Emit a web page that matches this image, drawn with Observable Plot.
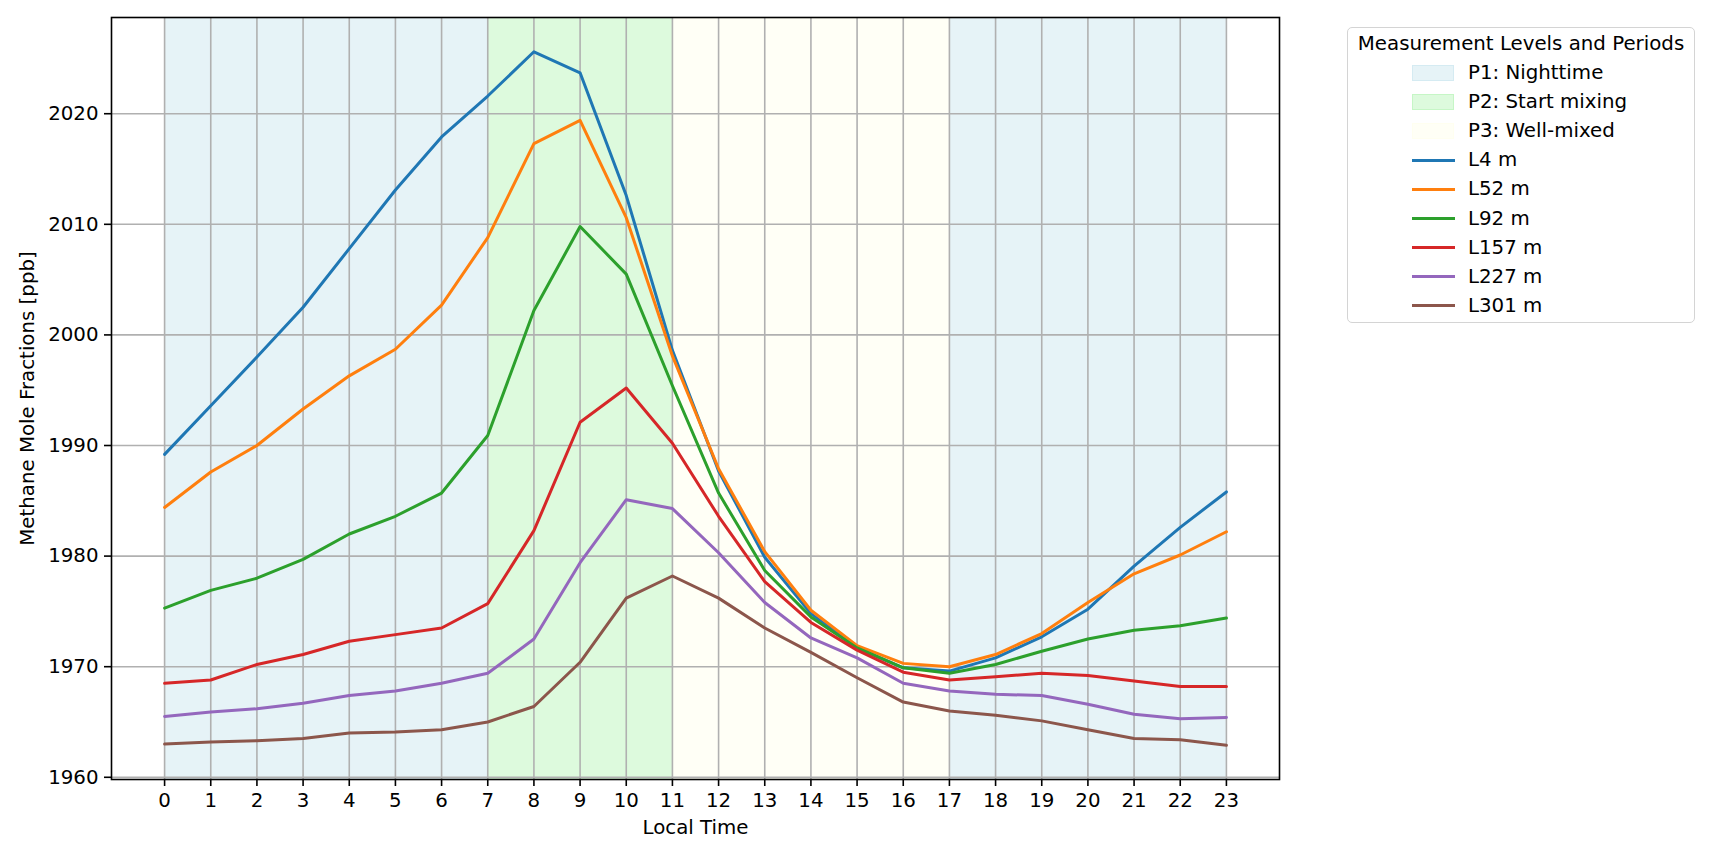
<!DOCTYPE html>
<html><head><meta charset="utf-8">
<script src="https://cdn.jsdelivr.net/npm/d3@7"></script>
<script src="https://cdn.jsdelivr.net/npm/@observablehq/plot@0.6"></script>
<style>
body{margin:0;background:#fff;font-family:"DejaVu Sans",sans-serif;}
#wrap{position:relative;width:1713px;height:852px;overflow:hidden;}
#legend{position:absolute;left:1347px;top:27px;width:346px;height:294px;border:1.6px solid #d4d4d4;border-radius:5px;background:rgba(255,255,255,0.8);font-size:19.8px;color:#000;box-sizing:content-box;}
#legend .title{position:absolute;left:0;width:100%;top:3px;text-align:center;white-space:nowrap;line-height:26px;}
#legend .entry{position:absolute;left:0;width:100%;height:26px;}
#legend .lab{position:absolute;left:120px;top:0;line-height:26px;white-space:nowrap;}
#legend .patch{position:absolute;left:64px;top:5px;width:40px;height:14px;border-width:1.5px;border-style:solid;}
#legend .ln{position:absolute;left:64px;top:11.5px;width:43px;height:3px;}
</style></head>
<body>
<div id="wrap"><div id="chart"></div><div id="legend"></div></div>
<script>
// ---- data ----
const hours = [0,1,2,3,4,5,6,7,8,9,10,11,12,13,14,15,16,17,18,19,20,21,22,23];
const seriesNames = ["L4 m","L52 m","L92 m","L157 m","L227 m","L301 m"];
const seriesColors = ["#1f77b4","#ff7f0e","#2ca02c","#d62728","#9467bd","#8c564b"];
const l4   = [1989.2,1993.6,1998.0,2002.5,2007.8,2013.1,2017.9,2021.6,2025.6,2023.7,2012.6,1998.6,1987.7,1979.9,1974.8,1971.7,1969.9,1969.6,1970.8,1972.7,1975.2,1979.1,1982.6,1985.8];
const l52  = [1984.4,1987.6,1990.0,1993.3,1996.3,1998.7,2002.7,2008.8,2017.3,2019.4,2010.6,1998.1,1987.9,1980.4,1975.1,1971.9,1970.3,1970.0,1971.1,1973.0,1975.8,1978.4,1980.1,1982.2];
const l92  = [1975.3,1976.9,1978.0,1979.7,1982.0,1983.6,1985.7,1990.9,2002.2,2009.8,2005.5,1995.4,1985.7,1978.7,1974.5,1971.7,1969.9,1969.4,1970.2,1971.4,1972.5,1973.3,1973.7,1974.4];
const l157 = [1968.5,1968.8,1970.2,1971.1,1972.3,1972.9,1973.5,1975.7,1982.3,1992.1,1995.2,1990.2,1983.6,1977.7,1974.0,1971.5,1969.5,1968.8,1969.1,1969.4,1969.2,1968.7,1968.2,1968.2];
const l227 = [1965.5,1965.9,1966.2,1966.7,1967.4,1967.8,1968.5,1969.4,1972.5,1979.4,1985.1,1984.3,1980.3,1975.8,1972.6,1970.8,1968.5,1967.8,1967.5,1967.4,1966.6,1965.7,1965.3,1965.4];
const l301 = [1963.0,1963.2,1963.3,1963.5,1964.0,1964.1,1964.3,1965.0,1966.4,1970.4,1976.2,1978.2,1976.2,1973.5,1971.3,1969.0,1966.8,1966.0,1965.6,1965.1,1964.3,1963.5,1963.4,1962.9];
const periodNames = ["P1: Nighttime","P2: Start mixing","P3: Well-mixed"];
const periodColors = ["lightblue","lightgreen","lightyellow"];
const spanStart  = [0, 7, 11, 17];
const spanEnd    = [7, 11, 17, 23];
const spanPeriod = ["P1: Nighttime","P2: Start mixing","P3: Well-mixed","P1: Nighttime"];
const yTicks = [1960,1970,1980,1990,2000,2010,2020];
const legendTitle = "Measurement Levels and Periods";

// ---- build tables ----
const seriesValues = [l4,l52,l92,l157,l227,l301];
const rows = [];
seriesNames.forEach((s,i) => hours.forEach((h,j) => rows.push({series:s, hour:h, value:seriesValues[i][j]})));
const spans = spanStart.map((s,i) => ({start:s, end:spanEnd[i], period:spanPeriod[i]}));

const spanMarks = periodNames.map((p,i) =>
  Plot.rect(spans.filter(d => d.period === p), {x1:"start", x2:"end", fill:periodColors[i], fillOpacity:0.3}));

const chart = Plot.plot({
  width:1713, height:852,
  marginLeft:111, marginRight:434, marginTop:17, marginBottom:73,
  style:{fontFamily:"DejaVu Sans", fontSize:"19.8px", color:"#000", background:"transparent", overflow:"visible"},
  x:{domain:[-1.15,24.15]},
  y:{domain:[1959.8,2028.7]},
  color:{domain:seriesNames, range:seriesColors},
  marks:[
    ...spanMarks,
    Plot.gridX(hours, {stroke:"#b0b0b0", strokeOpacity:1, strokeWidth:1.6}),
    Plot.gridY(yTicks, {stroke:"#b0b0b0", strokeOpacity:1, strokeWidth:1.6}),
    Plot.line(rows, {x:"hour", y:"value", z:"series", stroke:"series", strokeWidth:3}),
    Plot.frame({stroke:"#000", strokeWidth:1.6}),
    Plot.axisX(hours, {tickSize:7, tickPadding:6, strokeWidth:1.6, tickFormat:"d", label:"Local Time", labelAnchor:"center", labelArrow:"none", labelOffset:54}),
    Plot.axisY(yTicks, {tickSize:7, tickPadding:6, strokeWidth:1.6, tickFormat:"d", label:"Methane Mole Fractions [ppb]", labelAnchor:"center", labelArrow:"none", labelOffset:92})
  ]
});
document.getElementById("chart").appendChild(chart);

// ---- legend ----
const leg = document.getElementById("legend");
const t = document.createElement("div"); t.className = "title"; t.textContent = legendTitle; leg.appendChild(t);
const edgeColors = ["#d5ebf2","#c6f6c6","#fffff0"];
const fillColors = ["#e6f3f7","#ddfadd","#fffff6"];
let y0 = 32, dy = 29.1;
periodNames.forEach((p,i) => {
  const e = document.createElement("div"); e.className = "entry"; e.style.top = (y0 + i*dy) + "px";
  const pa = document.createElement("div"); pa.className = "patch"; pa.style.background = fillColors[i]; pa.style.borderColor = edgeColors[i];
  const lb = document.createElement("div"); lb.className = "lab"; lb.textContent = p;
  e.appendChild(pa); e.appendChild(lb); leg.appendChild(e);
});
seriesNames.forEach((s,i) => {
  const k = i + periodNames.length;
  const e = document.createElement("div"); e.className = "entry"; e.style.top = (y0 + k*dy) + "px";
  const ln = document.createElement("div"); ln.className = "ln"; ln.style.background = seriesColors[i];
  const lb = document.createElement("div"); lb.className = "lab"; lb.textContent = s;
  e.appendChild(ln); e.appendChild(lb); leg.appendChild(e);
});
</script>
</body></html>
